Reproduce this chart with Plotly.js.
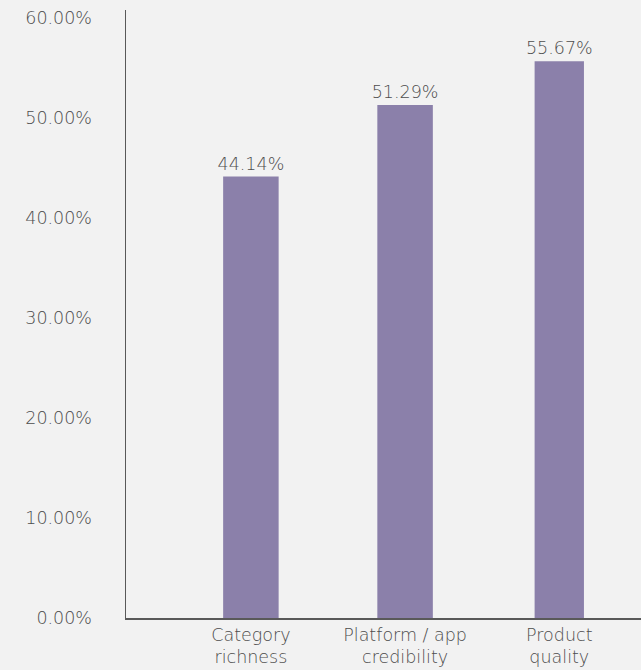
<!DOCTYPE html>
<html>
<head>
<meta charset="utf-8">
<script src="https://cdn.plot.ly/plotly-3.0.1.min.js"></script>
<style>html,body{margin:0;padding:0;background:#f2f2f2;}#chart{width:641px;height:670px;}</style>
</head>
<body>
<div id="chart"></div>
<script>
const categories = ["Category<br>richness", "Platform / app<br>credibility", "Product<br>quality"];
const values = [44.14, 51.29, 55.67];
const tickVals = [0, 10, 20, 30, 40, 50, 60];
const tickText = ["0.00%", "10.00%", "20.00%", "30.00%", "40.00%", "50.00%", "60.00%"];

const font = "'DejaVu Sans', sans-serif";
const fs = 17.5;
const col = "#4d4d4d";
const trace = {
  type: "bar",
  x: categories,
  y: values,
  marker: {color: "#8b80aa"},
  width: [0.36, 0.36, 0.32],
  text: values.map(v => v.toFixed(2) + "%"),
  textposition: "outside",
  constraintext: "none",
  textfont: {family: font, size: fs, color: col, weight: 200},
  cliponaxis: false,
  hoverinfo: "none"
};
const layout = {
  width: 641, height: 670,
  paper_bgcolor: "#f2f2f2", plot_bgcolor: "#f2f2f2",
  margin: {l: 126, r: 0, t: 10, b: 52},
  showlegend: false,
  font: {family: font, size: fs, color: col, weight: 200},
  xaxis: {
    range: [-0.81, 2.53],
    showline: true, linecolor: "#595959", linewidth: 1.5,
    showgrid: false, zeroline: false, ticks: "",
    tickfont: {family: font, size: fs, color: col, weight: 200},
    ticklabelstandoff: 0
  },
  yaxis: {
    range: [0, 60.8],
    tickvals: tickVals, ticktext: tickText,
    showline: true, linecolor: "#595959", linewidth: 1.5,
    showgrid: false, zeroline: false, ticks: "",
    tickfont: {family: font, size: fs, color: col, weight: 200},
    ticklabelstandoff: 29
  }
};
Plotly.newPlot("chart", [trace], layout, {displayModeBar: false, staticPlot: true});
</script>
</body>
</html>
